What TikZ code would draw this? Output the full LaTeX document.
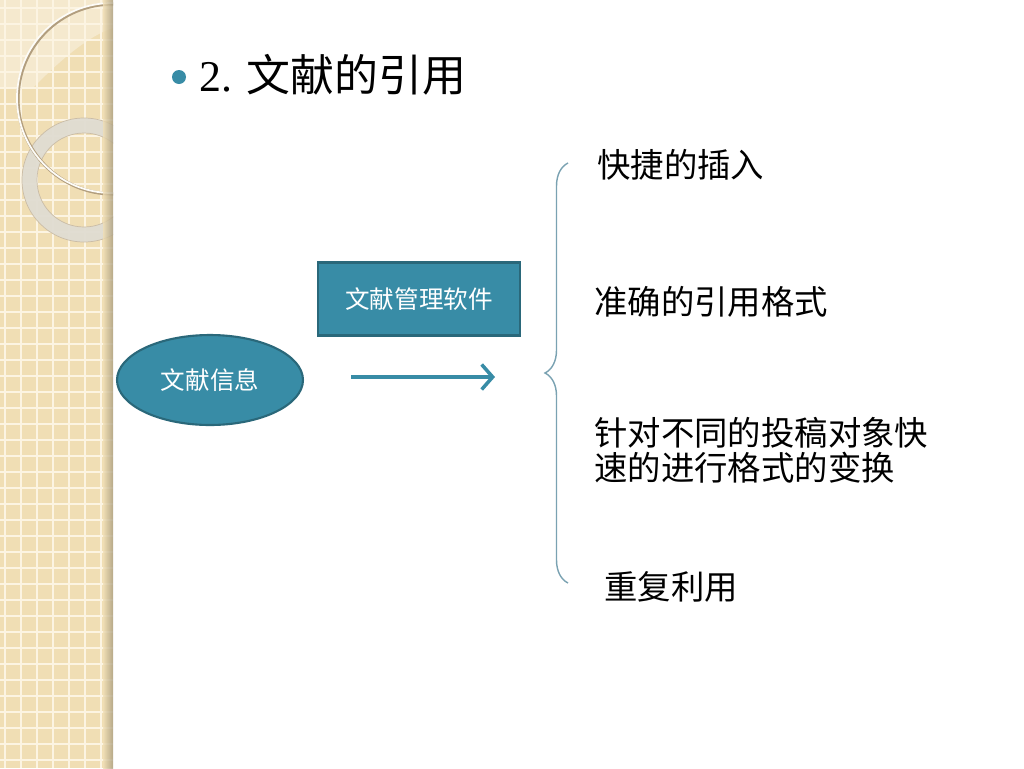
\documentclass[tikz,border=0pt]{standalone}
\usepackage{fontspec}
\setmainfont{Liberation Serif}
\newfontfamily\cjk{Noto Sans CJK SC}
\usepackage{tikz}
\usetikzlibrary{positioning}
\usetikzlibrary{calc}
\usetikzlibrary{shapes.geometric}
\usetikzlibrary{arrows.meta}
\usetikzlibrary{decorations.pathreplacing}
\definecolor{tealfill}{RGB}{56,140,166}
\definecolor{tealline}{RGB}{42,104,122}
\definecolor{bracecol}{RGB}{122,162,178}
\definecolor{stripbeige}{RGB}{240,222,180}
\definecolor{gridline}{RGB}{252,244,226}
\definecolor{ringgrey}{RGB}{224,220,210}
\definecolor{ringbrown}{RGB}{178,158,126}
\tikzset{
	box/.style={draw=tealline, line width=1.2pt, fill=tealfill, text=white, minimum width=4.04cm, minimum height=1.46cm, font=\cjk\fontsize{14}{16}\selectfont},
	infobubble/.style={ellipse, draw=tealline, line width=1.2pt, fill=tealfill, text=white, minimum width=3.72cm, minimum height=1.8cm, font=\cjk\fontsize{14}{16}\selectfont},
	item/.style={anchor=west, inner sep=0pt, align=left, font=\cjk\fontsize{19}{20}\selectfont},
	flow/.style={-{Straight Barb[length=2.2mm, width=5mm, line width=2pt]}, draw=tealfill, line width=2.2pt},
	curly/.style={draw=bracecol, line width=0.8pt, decorate, decoration={brace, amplitude=0.46cm}}
}

\begin{document}
\begin{tikzpicture}[x=0.02cm, y=-0.02cm]
	\useasboundingbox (0,0) rectangle (1024,768);
	\fill[white] (0,0) rectangle (1024,768);
	
	% left strip
	\fill[stripbeige] (0,0) rectangle (113,768);
	\fill[white, opacity=0.35] (0,0) -- (0,88) -- (33,88) .. controls (60,60) and (90,35) .. (113,28) -- (113,0) -- cycle;
	\foreach \g in {8,24,...,768}
		\draw[gridline, line width=0.6pt] (0,\g) -- (113,\g);
	\foreach \g in {5,21,...,113}
		\draw[gridline, line width=0.6pt] (\g,0) -- (\g,768);
	\begin{scope}
		\clip (0,0) rectangle (113,768);
		\fill[ringgrey, draw=ringbrown!70, line width=0.4pt, opacity=0.95, even odd rule] (84,180) circle (62) (84,180) circle (47);
		\draw[ringbrown, line width=1.8pt] (113,99) circle (95);
		\draw[white!90!stripbeige, line width=1pt] (112,98) circle (95);
	\end{scope}
	\shade[left color=stripbeige, right color=black!30!stripbeige, opacity=0.8] (103,0) rectangle (113,768);
	
	\node[circle, fill=tealfill, inner sep=0pt, minimum size=0.28cm] (bullet) at (179,77) {};
	\node[anchor=west, inner sep=0pt, font=\fontsize{25}{30}\selectfont] (title) at (199,75) {2. {\cjk 文献的引用}};
	
	\node[box] (software) at (419,299) {文献管理软件};
	\node[infobubble] (info) at (210,380) {文献信息};
	
	\coordinate (arrowtail) at (351,377);
	\coordinate (arrowhead) at (495,377);
	\draw[flow] (arrowtail) -- (arrowhead);
	
	\coordinate (bracelow) at (568,583);
	\coordinate (bracetop) at (568,163);
	\draw[curly] (bracelow) -- (bracetop);
	
	\node[item] (insert) at (597,165) {快捷的插入};
	\node[item] (format) at (594,302) {准确的引用格式};
	\node[item] (convert) at (594,450) {针对不同的投稿对象快\\速的进行格式的变换};
	\node[item] (reuse) at (604,587) {重复利用};
\end{tikzpicture}
\end{document}
